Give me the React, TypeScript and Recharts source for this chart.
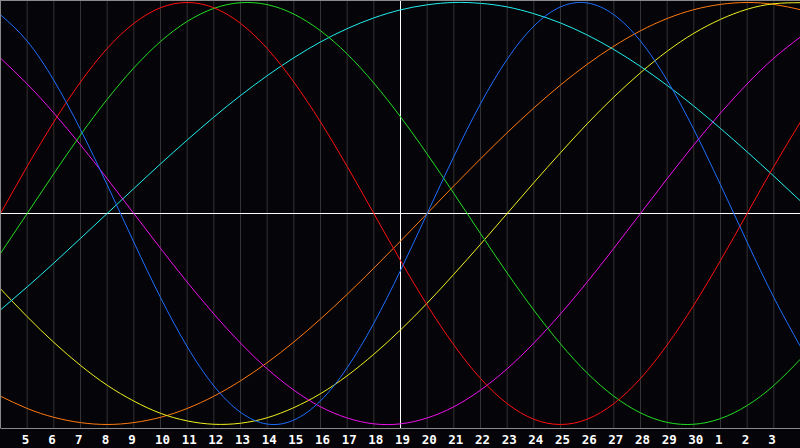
import { CartesianGrid, Line, LineChart, ReferenceLine, XAxis, YAxis } from 'recharts'

// day labels, one per day from the chart's left edge to its right edge
const DAY_LABELS = [
  '4', '5', '6', '7', '8', '9', '10', '11', '12', '13', '14', '15', '16', '17', '18', '19',
  '20', '21', '22', '23', '24', '25', '26', '27', '28', '29', '30', '1', '2', '3', '4',
]

// cycle values in percent, read per day off the reference
const physical = [
  94.2, 81.7, 63.1, 39.8, 13.6, -13.6, -39.8, -63.1, -81.7, -94.2, -99.8, -97.9, -88.8, -73.1, -52.0,
  -27.0, 0, 27.0, 52.0, 73.1, 88.8, 97.9, 99.8, 94.2, 81.7, 63.1, 39.8, 13.6, -13.6, -39.8, -63.1,
]
const emotional = [
  0, 22.3, 43.4, 62.3, 78.2, 90.1, 97.5, 100, 97.5, 90.1, 78.2, 62.3, 43.4, 22.3, 0, -22.3, -43.4,
  -62.3, -78.2, -90.1, -97.5, -100, -97.5, -90.1, -78.2, -62.3, -43.4, -22.3, 0, 22.3, 43.4,
]
const intellectual = [
  -18.9, 0, 18.9, 37.2, 54.1, 69.0, 81.5, 91.0, 97.2, 99.9, 99.0, 94.5, 86.6, 75.6, 61.8, 45.8, 28.2,
  9.5, -9.5, -28.2, -45.8, -61.8, -75.6, -86.6, -94.5, -99.0, -99.9, -97.2, -91.0, -81.5, -69.0,
]
const intuitive = [
  73.6, 61.4, 47.6, 32.5, 16.5, 0, -16.5, -32.5, -47.6, -61.4, -73.6, -83.7, -91.6, -96.9, -99.7,
  -99.7, -96.9, -91.6, -83.7, -73.6, -61.4, -47.6, -32.5, -16.5, 0, 16.5, 32.5, 47.6, 61.4, 73.6, 83.7,
]
const aesthetic = [
  -35.7, -48.9, -61.1, -72.0, -81.4, -88.9, -94.7, -98.3, -99.9, -99.4, -96.8, -92.0, -85.4, -76.9,
  -66.7, -55.2, -42.5, -28.8, -14.6, 0, 14.6, 28.8, 42.5, 55.2, 66.7, 76.9, 85.4, 92.0, 96.8, 99.4, 99.9,
]
const awareness = [
  -86.6, -92.4, -96.6, -99.1, -100, -99.1, -96.6, -92.4, -86.6, -79.3, -70.7, -60.9, -50.0, -38.3,
  -25.9, -13.1, 0, 13.1, 25.9, 38.3, 50.0, 60.9, 70.7, 79.3, 86.6, 92.4, 96.6, 99.1, 100, 99.1, 96.6,
]
const spiritual = [
  -45.7, -34.8, -23.5, -11.8, 0, 11.8, 23.5, 34.8, 45.7, 55.9, 65.3, 73.8, 81.3, 87.6, 92.7, 96.5,
  98.9, 100.0, 99.6, 97.9, 94.7, 90.3, 84.6, 77.7, 69.7, 60.7, 50.9, 40.3, 29.2, 17.7, 5.9,
]

const TODAY_INDEX = 15
const TICK_INDEXES = DAY_LABELS.map((_, i) => i).slice(1, -1)

const SERIES = [
  { key: 'awareness', values: awareness, color: '#ff7a10' },
  { key: 'aesthetic', values: aesthetic, color: '#f0f020' },
  { key: 'spiritual', values: spiritual, color: '#22eeee' },
  { key: 'intuitive', values: intuitive, color: '#ee11ee' },
  { key: 'intellectual', values: intellectual, color: '#22dd22' },
  { key: 'emotional', values: emotional, color: '#ff1010' },
  { key: 'physical', values: physical, color: '#1e6eff' },
]

const data = DAY_LABELS.map((label, i) => {
  const row: Record<string, number | string> = { i, label }
  SERIES.forEach((s) => {
    row[s.key] = s.values[i]
  })
  return row
})

const DayTick = (props: any) => {
  const { x, payload } = props
  return (
    <text
      x={x - 5.5}
      y={444}
      textAnchor="start"
      fill="#ffffff"
      fontFamily="'DejaVu Sans Mono', monospace"
      fontWeight="bold"
      fontSize={12.5}
    >
      {DAY_LABELS[payload.value]}
    </text>
  )
}

function App() {
  return (
    <div style={{ position: 'absolute', left: 0, top: 0, width: 800, height: 448, background: '#050509' }}>
      <LineChart
        width={800}
        height={448}
        data={data}
        margin={{ top: 0, right: -0.5, left: 0.5, bottom: 0 }}
      >
        <CartesianGrid horizontal={false} stroke="#333333" />
        <XAxis
          dataKey="i"
          type="number"
          domain={[0, 30]}
          ticks={TICK_INDEXES}
          interval={0}
          height={19.5}
          stroke="#8a8a8a"
          tickLine={false}
          tick={<DayTick />}
        />
        <YAxis hide type="number" domain={[-101.9, 101.18]} allowDataOverflow />
        <ReferenceLine x={TODAY_INDEX} stroke="#ffffff" />
        <ReferenceLine y={0} stroke="#ffffff" />
        {SERIES.map((s) => (
          <Line
            key={s.key}
            type="natural"
            dataKey={s.key}
            stroke={s.color}
            strokeWidth={1}
            dot={false}
            isAnimationActive={false}
          />
        ))}
      </LineChart>
      <div
        style={{
          position: 'absolute',
          left: 0,
          top: 0,
          width: 800,
          height: 428,
          boxSizing: 'border-box',
          borderTop: '1px solid #8a8a8a',
          borderLeft: '1px solid #8a8a8a',
          pointerEvents: 'none',
        }}
      />
    </div>
  )
}

export default App
